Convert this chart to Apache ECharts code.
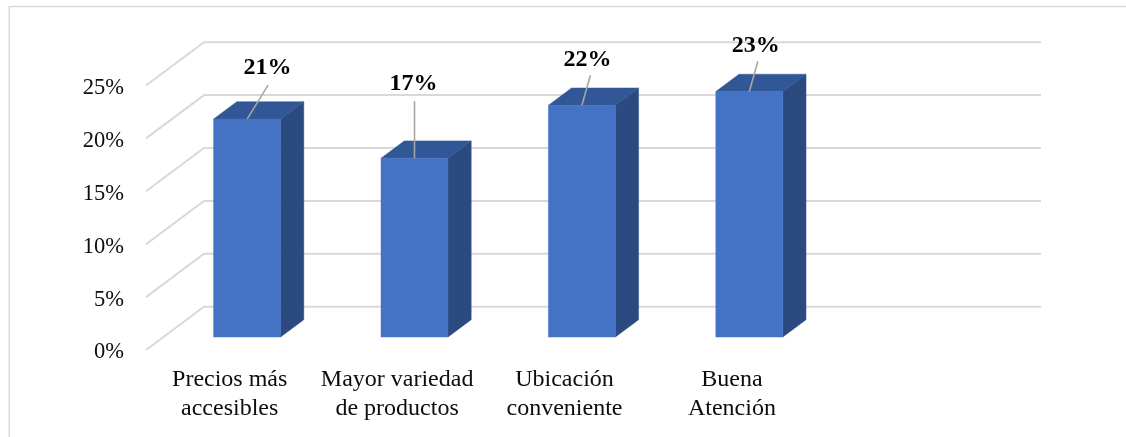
<!DOCTYPE html>
<html>
<head>
<meta charset="utf-8">
<style>html,body{margin:0;padding:0;background:#fff}#c{width:1126px;height:437px}</style>
<script src="https://cdn.jsdelivr.net/npm/echarts@6/dist/echarts.min.js"></script>
</head>
<body>
<div id="c"></div>
<script>
const categories = ['Precios más\naccesibles', 'Mayor variedad\nde productos', 'Ubicación\nconveniente', 'Buena\nAtención', ''];
const values = [20.6, 16.9, 21.9, 23.2];
const yTicks = [0, 5, 10, 15, 20, 25];
const labelNudges = [[20.5, -51.5, 21, -34], [-1, -74.5, 0, -57], [5.5, -46, 8.5, -30], [6.5, -46, 8.5, -30]];

const SERIF = '"Liberation Serif","Times New Roman",serif';
const WALL_DX = 58, WALL_DY = -43.3;
const BAR_D0 = 0.3, BAR_D1 = 0.7, BAR_W = 0.4;
const FRONT = '#4472c4', TOP = '#325796', SIDE = '#2b4a80', GRID = '#d9d9d9', LEADER = '#a6a6a6';

const chart = echarts.init(document.getElementById('c'), null, {renderer: 'canvas'});

function poly(points, fill) {
  return {type: 'polygon', shape: {points}, style: {fill, stroke: fill, lineWidth: 0.5}};
}

chart.setOption({
  animation: false,
  backgroundColor: '#fff',
  graphic: [{
    type: 'rect', silent: true, z: -10,
    shape: {x: 9.25, y: 6.5, width: 1300, height: 600},
    style: {fill: 'none', stroke: GRID, lineWidth: 1.5}
  }],
  grid: {left: 146, right: 143, top: 85.5, bottom: 87, containLabel: false},
  xAxis: {
    type: 'category', data: categories,
    axisLine: {show: false}, axisTick: {show: false}, splitLine: {show: false},
    axisLabel: {interval: 0, margin: 15, fontFamily: SERIF, fontSize: 24, lineHeight: 29, color: '#0d0d0d'}
  },
  yAxis: {
    type: 'value', min: 0, max: 25, interval: 5,
    axisLine: {show: false}, axisTick: {show: false}, splitLine: {show: false},
    axisLabel: {formatter: '{value}%', margin: 22, fontFamily: SERIF, fontSize: 22.5, color: '#0d0d0d', verticalAlign: 'top', lineHeight: 5}
  },
  series: [
    {
      type: 'custom', coordinateSystem: 'cartesian2d', silent: true, z: 1, clip: false,
      encode: {x: 0, y: 1},
      data: yTicks.map(v => [0, v]),
      renderItem(params, api) {
        const cs = params.coordSys;
        const y = api.coord([0, api.value(1)])[1];
        const x0 = cs.x;
        return {
          type: 'polyline',
          shape: {points: [[x0, y], [x0 + WALL_DX, y + WALL_DY], [x0 + cs.width + WALL_DX, y + WALL_DY]]},
          style: {fill: 'none', stroke: GRID, lineWidth: 2}
        };
      }
    },
    {
      type: 'custom', coordinateSystem: 'cartesian2d', silent: true, z: 3, clip: false,
      encode: {x: 0, y: 1},
      data: values.map((v, i) => [i, v]),
      renderItem(params, api) {
        const i = api.value(0), v = api.value(1);
        const top = api.coord([i, v]), base = api.coord([i, 0]);
        const band = api.size([1, 0])[0];
        const w = band * BAR_W;
        const ox = WALL_DX * BAR_D0, oy = WALL_DY * BAR_D0;
        const dx = WALL_DX * (BAR_D1 - BAR_D0), dy = WALL_DY * (BAR_D1 - BAR_D0);
        const xl = top[0] - w / 2 + ox, xr = xl + w;
        const yt = top[1] + oy, yb = base[1] + oy;
        const cx = (xl + xr) / 2;
        const n = labelNudges[i];
        return {
          type: 'group',
          children: [
            poly([[xr, yt], [xr + dx, yt + dy], [xr + dx, yb + dy], [xr, yb]], SIDE),
            poly([[xl, yt], [xl + dx, yt + dy], [xr + dx, yt + dy], [xr, yt]], TOP),
            poly([[xl, yt], [xr, yt], [xr, yb], [xl, yb]], FRONT),
            {type: 'line', shape: {x1: cx, y1: yt, x2: cx + n[2], y2: yt + n[3]}, style: {stroke: LEADER, lineWidth: 1.6}},
            {type: 'text', style: {
              x: cx + n[0], y: yt + n[1], text: Math.round(v) + '%',
              fontFamily: SERIF, fontSize: 24, fontWeight: 'bold', fill: '#000',
              align: 'center', verticalAlign: 'middle'
            }}
          ]
        };
      }
    }
  ]
});
</script>
</body>
</html>
